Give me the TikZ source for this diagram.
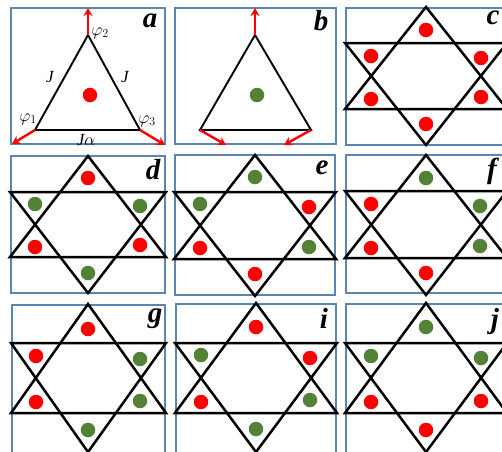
\documentclass[tikz,border=0pt]{standalone}
\usepackage{fontspec}
\setmainfont{Liberation Serif}
\usetikzlibrary{arrows.meta}
\definecolor{framec}{HTML}{5B86B0}
\definecolor{dotg}{HTML}{538135}
\definecolor{dotr}{HTML}{FF0000}
\tikzset{
  x=1pt,y=-1pt,
  panel/.style={draw=framec,line width=1.2pt},
  bond/.style={draw=black,line width=1.9pt,line join=miter},
  kbond/.style={draw=black,line width=2.5pt,line join=miter},
  spin/.style={draw=dotr,line width=2.4pt,-{Stealth[length=8pt,width=9pt]}},
  rdot/.style={circle,fill=dotr,inner sep=0pt,minimum size=14.5pt},
  gdot/.style={circle,fill=dotg,inner sep=0pt,minimum size=14.5pt},
  tag/.style={inner sep=0pt,font=\fontsize{29}{29}\selectfont\bfseries\itshape},
  lab/.style={inner sep=0pt,font=\fontsize{17}{17}\selectfont\itshape},
}
% #1 prefix, #2 cx, #3 top, #4 bottom, #5 upper line, #6 lower line, #7 left, #8 right
\newcommand{\kagstar}[8]{%
  \coordinate (#1t) at (#2,#3);
  \coordinate (#1b) at (#2,#4);
  \coordinate (#1ul) at (#7,#5);
  \coordinate (#1ur) at (#8,#5);
  \coordinate (#1ll) at (#7,#6);
  \coordinate (#1lr) at (#8,#6);
  \draw[kbond] (#1t) -- (#1ll) -- (#1lr) -- cycle;
  \draw[kbond] (#1b) -- (#1ul) -- (#1ur) -- cycle;
}
% #1 prefix, #2-#7 styles of six dots, then coordinates
\newcommand{\sixdots}[7]{%
  \node[#2] (#1d1) at (\xc,\ya) {};
  \node[#3] (#1d2) at (\xl,\yb) {};
  \node[#4] (#1d3) at (\xr,\yc) {};
  \node[#5] (#1d4) at (\xl,\yd) {};
  \node[#6] (#1d5) at (\xr,\ye) {};
  \node[#7] (#1d6) at (\xc,\yf) {};
}
\newcommand{\setdots}[8]{\def\xc{#1}\def\xl{#2}\def\xr{#3}\def\ya{#4}\def\yb{#5}\def\yc{#6}\def\yd{#7}\def\ye{#8}}
\begin{document}
\begin{tikzpicture}
\useasboundingbox (0,0) rectangle (502,451);
\clip (0,0) rectangle (502,451);
\fill[white] (0,0) rectangle (502,451);

% frames
\draw[panel] (11,8) rectangle (165,144);
\draw[panel] (175,8) rectangle (336,144);
\draw[panel] (346,8) rectangle (520,145);
\draw[panel] (11,156) rectangle (165,293);
\draw[panel] (175,155) rectangle (335,295);
\draw[panel] (346,155) rectangle (520,293);
\draw[panel] (12,305) rectangle (165,470);
\draw[panel] (176,304) rectangle (336,470);
\draw[panel] (346,304) rectangle (520,470);

% a
\coordinate (at) at (88,35);
\coordinate (al) at (35,130);
\coordinate (ar) at (140,130);
\coordinate (at2) at (88,8);
\coordinate (al2) at (12,144);
\coordinate (ar2) at (165,145);
\draw[bond] (at) -- (al) -- (ar) -- cycle;
\draw[spin] (at) -- (at2);
\draw[spin] (al) -- (al2);
\draw[spin] (ar) -- (ar2);
\node[rdot] (ad) at (90,95) {};
\node[tag] (atag) at (150,21) {a};
\node[lab] (aj1) at (50,77) {J};
\node[lab] (aj2) at (125,77) {J};
\node[lab] (ajb) at (86,140) {J$\alpha$};
\node[lab] (ap2) at (100,33) {$\varphi_2$};
\node[lab] (ap1) at (28,119) {$\varphi_1$};
\node[lab] (ap3) at (147,121) {$\varphi_3$};

% b
\coordinate (bt) at (255,35);
\coordinate (bl) at (200,130);
\coordinate (br) at (311,130);
\coordinate (bt2) at (255,8);
\coordinate (bl2) at (226,145);
\coordinate (br2) at (284,145);
\draw[bond] (bt) -- (bl) -- (br) -- cycle;
\draw[spin] (bt) -- (bt2);
\draw[spin] (bl) -- (bl2);
\draw[spin] (br) -- (br2);
\node[gdot] (bd) at (257,95) {};
\node[tag] (btag) at (321,21) {b};

% c
\kagstar{c}{426}{7}{145}{43}{109}{345}{507}
\setdots{426}{371}{481}{30}{56}{58}{99}{97}\def\yf{124}
\sixdots{c}{rdot}{rdot}{rdot}{rdot}{rdot}{rdot}
\node[tag] (ctag) at (493,18) {c};

% d
\kagstar{d}{88}{156}{293}{192}{257}{10}{166}
\setdots{88}{35}{140}{178}{204}{206}{247}{245}\def\yf{273}
\sixdots{d}{rdot}{gdot}{gdot}{rdot}{rdot}{gdot}
\node[tag] (dtag) at (153,170) {d};

% e
\kagstar{e}{255}{155}{296}{192}{259}{174}{336}
\setdots{255}{200}{309}{177}{204}{207}{248}{247}\def\yf{274}
\sixdots{e}{gdot}{gdot}{rdot}{rdot}{gdot}{rdot}
\node[tag] (etag) at (322,168) {e};

% f
\kagstar{f}{426}{155}{295}{191}{258}{345}{507}
\setdots{426}{371}{480}{178}{204}{206}{248}{246}\def\yf{273}
\sixdots{f}{gdot}{rdot}{gdot}{rdot}{gdot}{rdot}
\node[tag] (ftag) at (492,171) {f};

% g
\kagstar{g}{88}{304}{452}{343}{413}{11}{166}
\setdots{88}{36}{140}{329}{356}{359}{402}{401}\def\yf{430}
\sixdots{g}{rdot}{rdot}{gdot}{rdot}{gdot}{gdot}
\node[tag] (gtag) at (155,319) {g};

% i
\kagstar{i}{256}{303}{452}{343}{413}{175}{337}
\setdots{256}{201}{310}{327}{355}{358}{402}{400}\def\yf{429}
\sixdots{i}{rdot}{gdot}{rdot}{rdot}{gdot}{gdot}
\node[tag] (itag) at (324,318) {i};

% j
\kagstar{j}{426}{303}{452}{343}{413}{345}{507}
\setdots{426}{371}{481}{327}{356}{358}{402}{401}\def\yf{430}
\sixdots{j}{gdot}{gdot}{gdot}{rdot}{rdot}{rdot}
\node[tag] (jtag) at (495,322) {j};
\end{tikzpicture}
\end{document}
